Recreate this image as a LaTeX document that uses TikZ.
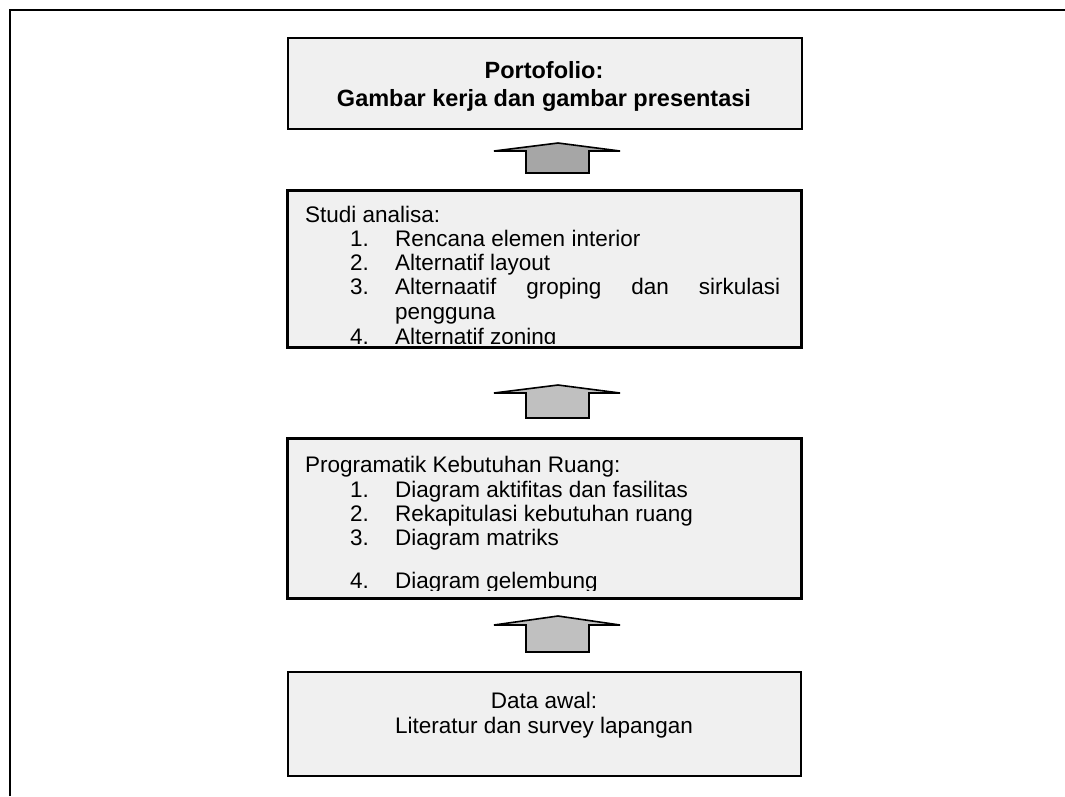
\documentclass[tikz,border=0pt]{standalone}
\usepackage{fontspec}
\setmainfont{Liberation Sans}
\definecolor{boxgray}{HTML}{F0F0F0}
\definecolor{arrowlight}{HTML}{C0C0C0}
\definecolor{arrowdark}{HTML}{A6A6A6}
\newcommand\itm[2]{\makebox[45pt][l]{#1}#2}
\begin{document}
\begin{tikzpicture}[x=1pt,y=-1pt,
  box/.style={draw=black, line width=1.8pt, fill=boxgray, inner sep=0pt, anchor=north west},
  txt/.style={anchor=base west, inner sep=0pt, font=\fontsize{22.5}{25}\selectfont},
  ctxt/.style={anchor=base, inner sep=0pt, font=\fontsize{22.5}{25}\selectfont},
  btxt/.style={anchor=base, inner sep=0pt, font=\fontsize{23.5}{26}\selectfont\bfseries},
  blockarrow/.style={draw=black, line width=1.6pt, line join=miter}]
\useasboundingbox (0,0) rectangle (1065,796);
% frame
\draw[line width=2.2pt] (10,796) coordinate (fb) -- (10,10) coordinate (fc) -- (1065,10) coordinate (fr);
% boxes
\node[box, minimum width=514pt, minimum height=91pt] (b1) at (287,37) {};
\node[box, minimum width=513pt, minimum height=156pt] (b2) at (287,190) {};
\node[box, minimum width=513pt, minimum height=159pt] (b3) at (287,438) {};
\node[box, minimum width=513pt, minimum height=104pt] (b4) at (287,671) {};
% box 1 text
\node[btxt] (t1a) at (544,78) {Portofolio:};
\node[btxt] (t1b) at (544,106) {Gambar kerja dan gambar presentasi};
% box 2 text
\begin{scope}
\clip (287,190) rectangle (800,343);
\node[txt] (t2a) at (305,222) {Studi analisa:};
\node[txt] (t2b) at (350,246) {\itm{1.}{Rencana elemen interior}};
\node[txt] (t2c) at (350,270) {\itm{2.}{Alternatif layout}};
\node[txt] (t2d) at (350,294) {\itm{3.}{\makebox[385pt][s]{Alternaatif groping dan sirkulasi}}};
\node[txt] (t2e) at (395,319) {pengguna};
\node[txt] (t2f) at (350,344) {\itm{4.}{Alternatif zoning}};
\end{scope}
\draw[line width=1.8pt] (b2.north west) rectangle (b2.south east);
% box 3 text
\begin{scope}
\clip (287,438) rectangle (800,590);
\node[txt] (t3a) at (305,472) {Programatik Kebutuhan Ruang:};
\node[txt] (t3b) at (350,497) {\itm{1.}{Diagram aktifitas dan fasilitas}};
\node[txt] (t3c) at (350,521) {\itm{2.}{Rekapitulasi kebutuhan ruang}};
\node[txt] (t3d) at (350,545) {\itm{3.}{Diagram matriks}};
\node[txt] (t3e) at (350,588) {\itm{4.}{Diagram gelembung}};
\end{scope}
\draw[line width=1.8pt] (b3.north west) rectangle (b3.south east);
% box 4 text
\node[ctxt] (t4a) at (544,708) {Data awal:};
\node[ctxt] (t4b) at (544,733) {Literatur dan survey lapangan};
% block arrows
\draw[blockarrow, fill=arrowdark] (494,151) -- (558,143) -- (620,151) -- (589,151) -- (589,173) -- (526,173) -- (526,151) -- cycle;
\draw[blockarrow, fill=arrowlight] (494,393) -- (558,385) -- (620,393) -- (589,393) -- (589,418) -- (526,418) -- (526,393) -- cycle;
\draw[blockarrow, fill=arrowlight] (494,625) -- (558,616) -- (620,625) -- (589,625) -- (589,652) -- (526,652) -- (526,625) -- cycle;
\end{tikzpicture}
\end{document}
